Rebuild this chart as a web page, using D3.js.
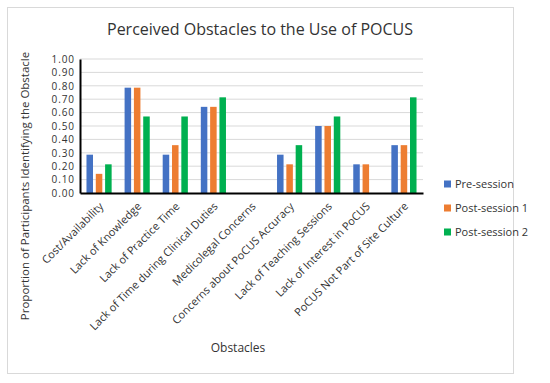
<!DOCTYPE html>
<html><head><meta charset="utf-8">
<script src="https://cdn.jsdelivr.net/npm/d3@7"></script>
<style>body{margin:0;background:#fff}svg{display:block}text{font-family:"Open Sans",sans-serif;fill:#333}</style>
</head><body><svg id="c" width="550" height="383"></svg>
<script>
const categories = ["Cost/Availability","Lack of Knowledge","Lack of Practice Time","Lack of Time during Clinical Duties","Medicolegal Concerns","Concerns about PoCUS Accuracy","Lack of Teaching Sessions","Lack of Interest in PoCUS","PoCUS Not Part of Site Culture"];
const seriesNames = ["Pre-session","Post-session 1","Post-session 2"];
const preSession = [0.286,0.786,0.286,0.643,0,0.286,0.5,0.214,0.357];
const postSession1 = [0.143,0.786,0.357,0.643,0,0.214,0.5,0.214,0.357];
const postSession2 = [0.214,0.571,0.571,0.714,0,0.357,0.571,0,0.714];
const yTicks = [0,0.1,0.2,0.3,0.4,0.5,0.6,0.7,0.8,0.9,1.0];
const colors = ["#4472C4","#ED7D31","#00B050"];
const series = [preSession, postSession1, postSession2];

const svg = d3.select("#c");
svg.append("rect").attr("x",7.5).attr("y",7.5).attr("width",506).attr("height",366).attr("fill","#fff").attr("stroke","#d9d9d9");

const L=80, R=423, T=59, B=193;
const x = d3.scaleBand().domain(categories).range([L,R]).paddingInner(0.34).paddingOuter(0.17);
const xs = d3.scaleBand().domain(seriesNames).range([0,x.bandwidth()]).paddingInner(0.3);
const y = d3.scaleLinear().domain([0,1]).range([B,T]);

svg.append("g").selectAll("line").data(yTicks.slice(1)).join("line")
  .attr("x1",L).attr("x2",R).attr("y1",d=>y(d)).attr("y2",d=>y(d)).attr("stroke","#d9d9d9");

series.forEach((s,si)=>{
  svg.append("g").selectAll("rect").data(categories).join("rect")
    .attr("x",(c)=>x(c)+xs(seriesNames[si]))
    .attr("width",xs.bandwidth())
    .attr("y",(c,i)=>y(s[i]))
    .attr("height",(c,i)=>B-y(s[i]))
    .attr("fill",colors[si]);
});

const ya = svg.append("g").attr("transform",`translate(${L},0)`).call(d3.axisLeft(y).tickValues(yTicks).tickFormat(d3.format(".2f")).tickSize(0).tickPadding(5));
ya.select(".domain").attr("stroke","#000").attr("stroke-width",2);
ya.selectAll("text").attr("font-size",10).attr("letter-spacing",0.9).attr("font-family","Open Sans, sans-serif").attr("fill","#333");

const xa = svg.append("g").attr("transform",`translate(0,${B})`).call(d3.axisBottom(x).tickSize(0).tickPadding(0));
xa.select(".domain").attr("stroke","#000").attr("stroke-width",2);
xa.selectAll("text").attr("font-size",11).attr("font-family","Open Sans, sans-serif").attr("fill","#333")
  .attr("text-anchor","end").attr("dy",0).attr("transform","translate(5,14) rotate(-45)");

svg.append("text").attr("x",260).attr("y",35).attr("text-anchor","middle").attr("font-size",16).text("Perceived Obstacles to the Use of POCUS");
svg.append("text").attr("x",238).attr("y",352).attr("text-anchor","middle").attr("font-size",12).text("Obstacles");
svg.append("text").attr("transform","translate(29,186) rotate(-90)").attr("text-anchor","middle").attr("font-size",11.5).text("Proportion of Participants Identifying the Obstacle");

const lg = svg.append("g").selectAll("g").data(seriesNames).join("g").attr("transform",(d,i)=>`translate(444,${184+i*24})`);
lg.append("rect").attr("x",0).attr("y",-3.5).attr("width",7).attr("height",7).attr("fill",(d,i)=>colors[i]);
lg.append("text").attr("x",11).attr("y",4).attr("font-size",11).text(d=>d);
</script></body></html>
